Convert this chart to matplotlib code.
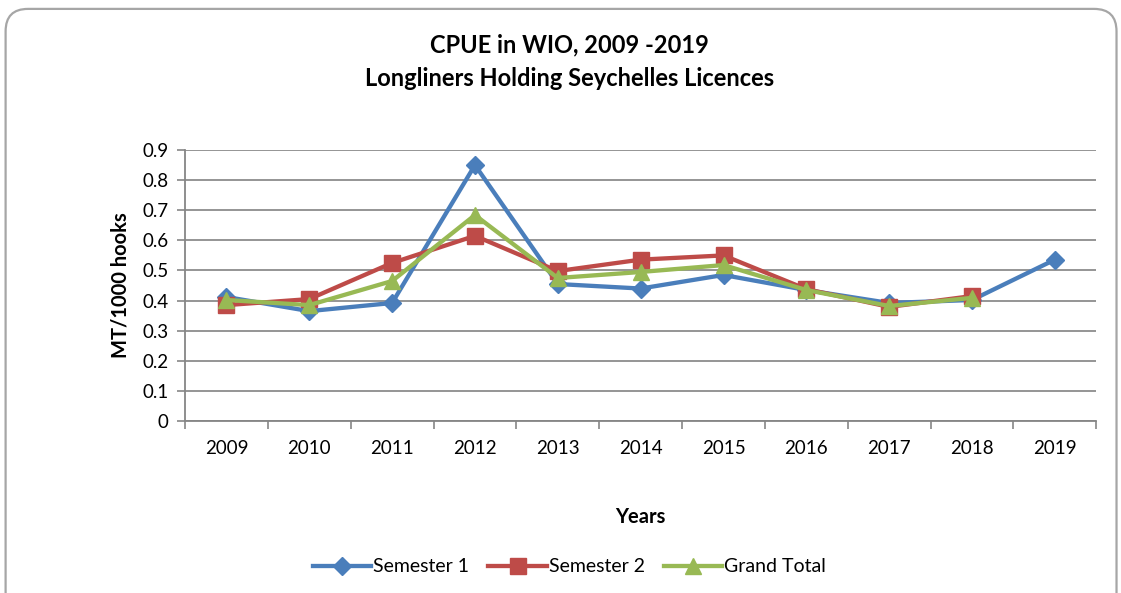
import matplotlib.pyplot as plt
import numpy as np
from matplotlib.patches import FancyBboxPatch

plt.rcParams['font.family'] = ['Lato', 'DejaVu Sans']

years = ["2009", "2010", "2011", "2012", "2013", "2014", "2015", "2016", "2017", "2018", "2019"]
semester1 = [0.412, 0.365, 0.392, 0.850, 0.455, 0.440, 0.485, 0.435, 0.392, 0.402, 0.536]
semester2 = [0.385, 0.405, 0.525, 0.615, 0.498, 0.536, 0.550, 0.438, 0.379, 0.415, np.nan]
grand_total = [0.402, 0.385, 0.465, 0.684, 0.475, 0.495, 0.518, 0.435, 0.382, 0.409, np.nan]

fig = plt.figure(figsize=(11.21, 5.93), dpi=100)
ax = fig.add_axes([0.165, 0.290, 0.813, 0.457])

# rounded chart border (bottom edge runs off the image like the original)
border = FancyBboxPatch((0.005, -0.05), 0.991, 1.035, boxstyle="round,pad=0,rounding_size=0.02",
                        transform=fig.transFigure, fill=False, edgecolor="#a6a6a6", linewidth=1.6,
                        mutation_aspect=1.89)
fig.patches.append(border)

x = np.arange(len(years))
ax.plot(x, semester1, color="#4A7EBB", lw=3.1, marker="D", ms=9.5, label="Semester 1", zorder=3)
ax.plot(x, semester2, color="#BE4B48", lw=3.1, marker="s", ms=11, label="Semester 2", zorder=4)
ax.plot(x, grand_total, color="#98B954", lw=3.1, marker="^", ms=12, label="Grand Total", zorder=5)

ax.set_xlim(-0.5, len(years) - 0.5)
ax.set_ylim(0, 0.9)
ax.set_yticks(np.arange(0, 0.91, 0.1))
ax.set_yticklabels(["0"] + [f"{v:.1f}" for v in np.arange(0.1, 0.91, 0.1)])
ax.set_xticks(x)
ax.set_xticklabels(years)
ax.set_xticks(np.arange(-0.5, len(years), 1.0), minor=True)
ax.tick_params(axis="x", which="major", length=0, pad=14, labelsize=13.5)
ax.tick_params(axis="x", which="minor", length=6, color="#868686", width=1.2)
ax.tick_params(axis="y", length=6, color="#868686", width=1.2, labelsize=13.5, pad=6)

ax.grid(axis="y", color="#8c8c8c", linewidth=1.3)
ax.set_axisbelow(True)
for s in ["top", "right"]:
    ax.spines[s].set_visible(False)
for s in ["left", "bottom"]:
    ax.spines[s].set_color("#868686")
    ax.spines[s].set_linewidth(1.3)

ax.set_ylabel("MT/1000 hooks", fontsize=14.5, fontweight="bold", labelpad=8)
ax.set_xlabel("Years", fontsize=14.5, fontweight="bold", labelpad=36)

fig.text(0.508, 0.925, "CPUE in WIO, 2009 -2019", ha="center", va="center",
         fontsize=17, fontweight="bold")
fig.text(0.508, 0.868, "Longliners Holding Seychelles Licences", ha="center", va="center",
         fontsize=17, fontweight="bold")

fig.legend(loc="center", bbox_to_anchor=(0.508, 0.044), ncol=3, frameon=False,
           fontsize=14, handlelength=3.0, handletextpad=0.1, columnspacing=1.0)

fig.savefig("out.png", dpi=100)
